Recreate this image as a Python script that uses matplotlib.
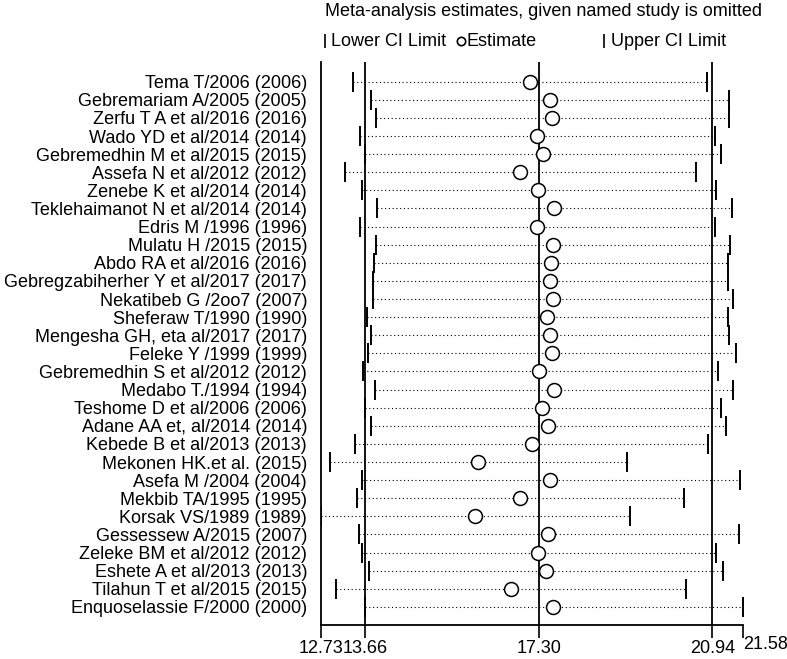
import matplotlib
matplotlib.use("Agg")
import matplotlib.pyplot as plt
from matplotlib.lines import Line2D

plt.rcParams["font.family"] = ["Liberation Sans", "DejaVu Sans"]

# ── Data ───────────────────────────────────────────────────────────────────
studies = [
    "Tema T/2006 (2006)",
    "Gebremariam A/2005 (2005)",
    "Zerfu T A et al/2016 (2016)",
    "Wado YD et al/2014 (2014)",
    "Gebremedhin M et al/2015 (2015)",
    "Assefa N et al/2012 (2012)",
    "Zenebe K et al/2014 (2014)",
    "Teklehaimanot N et al/2014 (2014)",
    "Edris M /1996 (1996)",
    "Mulatu H /2015 (2015)",
    "Abdo RA et al/2016 (2016)",
    "Gebregzabiherher Y et al/2017 (2017)",
    "Nekatibeb G /2oo7 (2007)",
    "Sheferaw T/1990 (1990)",
    "Mengesha GH, eta al/2017 (2017)",
    "Feleke Y /1999 (1999)",
    "Gebremedhin S et al/2012 (2012)",
    "Medabo T./1994 (1994)",
    "Teshome D et al/2006 (2006)",
    "Adane AA et, al/2014 (2014)",
    "Kebede B et al/2013 (2013)",
    "Mekonen HK.et al. (2015)",
    "Asefa M /2004 (2004)",
    "Mekbib TA/1995 (1995)",
    "Korsak VS/1989 (1989)",
    "Gessessew A/2015 (2007)",
    "Zeleke BM et al/2012 (2012)",
    "Eshete A et al/2013 (2013)",
    "Tilahun T et al/2015 (2015)",
    "Enquoselassie F/2000 (2000)",
]
lower = [13.40, 13.78, 13.88, 13.55, 13.65, 13.23, 13.58, 13.91, 13.55, 13.88,
         13.84, 13.82, 13.82, 13.69, 13.78, 13.72, 13.61, 13.87, 13.65, 13.78,
         13.44, 12.91, 13.58, 13.49, 12.73, 13.53, 13.58, 13.73, 13.05, 13.65]
estimate = [17.11, 17.54, 17.58, 17.27, 17.38, 16.90, 17.28, 17.61, 17.26, 17.59,
            17.55, 17.54, 17.60, 17.47, 17.53, 17.58, 17.31, 17.61, 17.36, 17.50,
            17.15, 16.02, 17.54, 16.91, 15.97, 17.50, 17.29, 17.45, 16.71, 17.60]
upper = [20.82, 21.29, 21.29, 21.00, 21.11, 20.59, 21.01, 21.35, 21.00, 21.31,
         21.26, 21.26, 21.38, 21.26, 21.29, 21.43, 21.05, 21.38, 21.11, 21.23,
         20.85, 19.14, 21.52, 20.35, 19.21, 21.49, 21.01, 21.17, 20.38, 21.58]

overall_lo, overall_est, overall_hi = 13.66, 17.30, 20.94

# ── Figure ────────────────────────────────────────────────────────────────
fig = plt.figure(figsize=(7.87, 6.59), dpi=100)
ax = fig.add_axes([321 / 787, 1 - 625 / 659, (743 - 321) / 787, (625 - 62) / 659])

xmin, xmax = min(lower), max(upper)
rows = list(range(1, len(studies) + 1))

for y, lo, est, hi in zip(rows, lower, estimate, upper):
    ax.plot([lo, hi], [y, y], color="black", linewidth=0.8,
            linestyle=(0, (1, 2.4)), zorder=2)
    ax.plot([lo, hi], [y, y], linestyle="None", marker="|", markersize=15,
            markeredgewidth=1.4, color="black", zorder=3)
    ax.plot(est, y, marker="o", markersize=10, markerfacecolor="white",
            markeredgecolor="black", markeredgewidth=1.1, linestyle="None",
            zorder=4)

for v in (overall_lo, overall_est, overall_hi):
    ax.axvline(v, color="black", linewidth=1.3, zorder=1)

ax.set_xlim(xmin, xmax)
ax.set_ylim(31.0, -0.09)
ax.set_yticks(rows)
ax.set_yticklabels(studies, fontsize=13)
ax.tick_params(axis="y", length=0, pad=10)

ticks = [xmin, overall_lo, overall_est, overall_hi, xmax]
ax.set_xticks(ticks)
ax.set_xticklabels([f"{t:.2f}" for t in ticks], fontsize=13)
ax.tick_params(axis="x", length=9, width=1.2, pad=2)
# last tick label sits to the right of its tick, as in the reference
last = ax.get_xticklabels()[-1]
last.set_horizontalalignment("left")
last.set_y(last.get_position()[1] + 0.008)

ax.spines[["top", "right"]].set_visible(False)
ax.spines["left"].set_linewidth(1.3)
ax.spines["bottom"].set_linewidth(1.3)

# ── Legend / title at the top ─────────────────────────────────────────────
fig.text(325 / 787, 1 - 12 / 659, "Meta-analysis estimates, given named study is omitted",
         fontsize=13, ha="left", va="center")
ly = 1 - 41 / 659
for mx, mk, tx, label in [(325, "|", 331, "Lower CI Limit"),
                          (461, "o", 467, "Estimate"),
                          (604, "|", 611, "Upper CI Limit")]:
    fig.add_artist(Line2D([mx / 787], [ly], marker=mk, color="black",
                          markersize=10 if mk == "|" else 6,
                          markerfacecolor="white", markeredgewidth=1.2,
                          transform=fig.transFigure))
    fig.text(tx / 787, ly, label, fontsize=13, ha="left", va="center")

fig.savefig("out.png", dpi=100, facecolor="white")
